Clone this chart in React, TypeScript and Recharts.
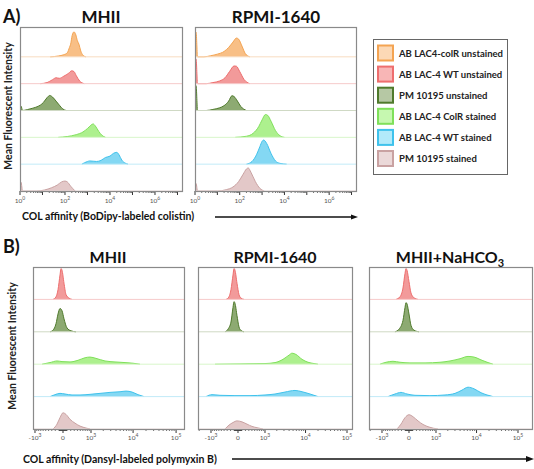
import React from 'react';
import { ComposedChart, Area, XAxis, YAxis, ReferenceLine } from 'recharts';

type Pt = [number, number];

const FONT = 'Lato, "Open Sans", sans-serif';

const SERIES_NAMES = [
  'AB LAC4-colR unstained',
  'AB LAC-4 WT unstained',
  'PM 10195 unstained',
  'AB LAC-4 ColR stained',
  'AB LAC-4 WT stained',
  'PM 10195 stained',
];
const STROKES = ['#F4A452', '#EE6E6E', '#4F7A2C', '#7FE05A', '#3FC2EC', '#C9A2A2'];
const FILLS = ['#F8BF86', '#F29A9A', '#8DAA72', '#ADF08E', '#84D8F3', '#E3C8C8'];
const BASELINES = ['#F8DCC0', '#F6CACA', '#CFD9C4', '#D8F6CA', '#C2EBF8', '#EBDCDC'];
const SWATCH_FILLS = ['#FCD9B6', '#F8B6B6', '#B6C8A4', '#C6F8B0', '#B2EAFA', '#EBD9D9'];

// panel A: BoDipy-colistin, x in fluorescence units (log axis), y = % of row height
const A_MHII: Pt[][] = [
  [[22, 0], [50, 3], [89, 8], [126, 15], [158, 35], [178, 47], [209, 80], [251, 93], [302, 82], [355, 60], [417, 47], [501, 22], [631, 6], [851, 0]],
  [[8, 0], [16, 4], [28, 15], [40, 22], [56, 20], [89, 28], [141, 38], [200, 48], [251, 45], [316, 30], [447, 10], [708, 0]],
  [[1, 18], [1.12, 16], [1.3, 0], [1.6, 1], [2.8, 6], [5, 12], [8, 20], [11, 30], [16, 48], [21, 56], [28, 50], [40, 35], [56, 20], [79, 6], [112, 0]],
  [[50, 0], [126, 3], [316, 10], [631, 20], [1000, 33], [1413, 45], [1778, 50], [2239, 42], [3162, 22], [4467, 7], [6310, 0]],
  [[562, 0], [1000, 10], [1259, 12], [1778, 11], [2512, 10], [3981, 14], [6310, 25], [10000, 30], [14125, 40], [19953, 44], [25119, 35], [33497, 15], [47315, 4], [63096, 0]],
  [[1, 35], [1.12, 32], [1.3, 0], [5.6, 0], [12.6, 4], [25, 12], [45, 22], [71, 34], [100, 37], [126, 34], [178, 18], [282, 0]],
];
const A_RPMI: Pt[][] = [
  [[1, 95], [1.12, 92], [1.3, 0], [2.5, 0], [5, 4], [10, 10], [20, 20], [32, 35], [50, 55], [71, 70], [89, 66], [126, 40], [178, 12], [282, 0]],
  [[1, 95], [1.12, 92], [1.3, 0], [3.2, 0], [6.3, 4], [12.6, 10], [22, 22], [35, 45], [56, 66], [71, 65], [100, 45], [158, 15], [282, 0]],
  [[1, 95], [1.12, 92], [1.3, 0], [3.2, 0], [6.3, 4], [12.6, 10], [20, 18], [32, 35], [45, 55], [56, 52], [79, 35], [112, 15], [200, 0]],
  [[63, 0], [200, 4], [398, 15], [708, 40], [1000, 65], [1413, 85], [1778, 82], [2512, 60], [3981, 25], [6310, 6], [10000, 0]],
  [[200, 0], [355, 10], [562, 35], [794, 65], [1000, 85], [1175, 90], [1585, 78], [2512, 40], [3981, 12], [6310, 3], [12589, 0]],
  [[1, 30], [1.12, 28], [1.3, 0], [10, 0], [25, 5], [50, 15], [89, 35], [141, 62], [200, 82], [240, 86], [316, 70], [501, 35], [794, 10], [1259, 0]],
];

// panel B: dansyl-polymyxin B, biexponential axis
const B_COLORS = [1, 2, 3, 4, 5];
const B_MHII: Pt[][] = [
  [[-264, 0], [-180, 8], [-127, 30], [-76, 75], [-50, 95], [-25, 90], [25, 50], [76, 15], [153, 4], [235, 0]],
  [[-354, 0], [-264, 5], [-180, 25], [-127, 55], [-76, 72], [-25, 65], [25, 40], [101, 12], [207, 3], [354, 0]],
  [[-646, 0], [-354, 5], [-153, 10], [-25, 8], [180, 7], [419, 12], [694, 20], [943, 22], [1333, 18], [2200, 10], [3793, 7], [6490, 5], [9950, 3], [14480, 0]],
  [[-354, 0], [-207, 6], [-76, 10], [50, 8], [235, 5], [490, 5], [943, 7], [1673, 10], [2890, 13], [4960, 15], [6850, 17], [9450, 14], [13000, 6], [17960, 0]],
  [[-264, 0], [-153, 15], [-76, 35], [0, 50], [76, 45], [180, 30], [323, 18], [490, 9], [736, 3], [943, 0]],
];
const B_RPMI: Pt[][] = [
  [[-337, 0], [-245, 8], [-188, 30], [-132, 75], [-105, 95], [-79, 90], [-26, 50], [26, 15], [79, 4], [160, 0]],
  [[-369, 0], [-275, 8], [-188, 30], [-132, 75], [-105, 93], [-79, 88], [-26, 50], [26, 15], [79, 4], [160, 0]],
  [[-775, 0], [52, 1], [1001, 2], [1807, 5], [2843, 15], [3983, 28], [4709, 34], [5884, 30], [8226, 15], [11480, 6], [16020, 2], [20000, 0]],
  [[-1349, 0], [-942, 6], [-552, 4], [-79, 3], [337, 3], [1001, 5], [1807, 8], [3182, 14], [5570, 19], [8226, 15], [12830, 8], [20000, 0]],
  [[-369, 0], [-245, 12], [-132, 20], [-26, 25], [105, 22], [245, 15], [404, 8], [594, 4], [885, 0]],
];
const B_NAHCO3: Pt[][] = [
  [[-369, 0], [-245, 8], [-160, 35], [-105, 80], [-79, 95], [-52, 90], [0, 55], [52, 20], [132, 5], [245, 0]],
  [[-404, 0], [-275, 8], [-160, 35], [-105, 75], [-79, 90], [-52, 86], [0, 55], [52, 20], [132, 5], [275, 0]],
  [[-1130, 0], [-775, 6], [-476, 9], [-245, 6], [26, 4], [476, 4], [1270, 6], [2270, 10], [3983, 17], [6227, 24], [8700, 22], [13580, 12], [18940, 5], [25000, 0]],
  [[-679, 0], [-404, 8], [-216, 13], [-52, 8], [160, 4], [679, 3], [1705, 5], [3012, 10], [4453, 20], [6227, 29], [8700, 24], [12830, 12], [17900, 5], [25000, 0]],
  [[-337, 0], [-216, 15], [-105, 35], [0, 44], [105, 38], [245, 25], [404, 14], [639, 6], [1130, 0]],
];

const A_DOMAIN: [number, number] = [1, 1.585e7];
const A_MAJOR = [1, 10, 1e2, 1e3, 1e4, 1e5, 1e6, 1e7];
const A_LABELS: Record<string, [string, string]> = { '1': ['10', '0'], '100': ['10', '2'], '10000': ['10', '4'], '1000000': ['10', '6'] };
const B_MAJOR = [-1000, 0, 1000, 10000, 100000];
const B_LABELS: Record<string, [string, string]> = { '-1000': ['-10', '3'], '0': ['0', ''], '1000': ['10', '3'], '10000': ['10', '4'], '100000': ['10', '5'] };

const aTicks = (() => {
  const t: number[] = [];
  for (let k = 0; k <= 7; k++) for (let m = 1; m <= 9; m++) {
    const v = m * Math.pow(10, k);
    if (v <= A_DOMAIN[1]) t.push(v);
  }
  return t;
})();

const bTicks = (min: number) => {
  const t: number[] = [...B_MAJOR];
  if (min <= -2000) t.push(-2000);
  for (let m = 1; m <= 9; m++) {
    t.push(-m * 100, m * 100, -m * 10, m * 10);
    if (m > 1) t.push(m * 1000, m * 10000);
  }
  return t.filter((v) => v >= min).sort((a, b) => a - b);
};

// arcsinh display scale for the biexponential axis
function asinhScale(w: number, dom: number[] = [0, 1], rng: number[] = [0, 1]): any {
  let d = dom.slice();
  let r = rng.slice();
  const f = (v: number) => Math.asinh(v / w);
  const s: any = (v: number) => {
    const t0 = f(d[0]);
    const t1 = f(d[d.length - 1]);
    return r[0] + ((f(v) - t0) / (t1 - t0)) * (r[r.length - 1] - r[0]);
  };
  s.domain = (x?: number[]) => {
    if (x === undefined) return d.slice();
    d = Array.from(x, Number);
    return s;
  };
  s.range = (x?: number[]) => {
    if (x === undefined) return r.slice();
    r = Array.from(x, Number);
    return s;
  };
  s.invert = (p: number) => {
    const t0 = f(d[0]);
    const t1 = f(d[d.length - 1]);
    return w * Math.sinh(t0 + ((p - r[0]) / (r[r.length - 1] - r[0])) * (t1 - t0));
  };
  s.copy = () => asinhScale(w, d, r);
  s.ticks = () => d.slice();
  s.tickFormat = () => (v: number) => String(v);
  s.nice = () => s;
  return s;
}

const makeTick = (majors: number[], labels: Record<string, [string, string]>, gap: number) => (props: any) => {
  const { x, y, payload } = props;
  const v = payload.value;
  const major = majors.includes(v);
  const lab = labels[String(v)];
  return (
    <g>
      <line x1={x} x2={x} y1={y} y2={y + (major ? 4 : 2)} stroke="#333" strokeWidth={major ? 1 : 0.7} />
      {lab && (
        <text x={x} y={y + gap} textAnchor="middle" fontSize={6.5} fill="#555" fontFamily={FONT}>
          {lab[0]}
          {lab[1] && (
            <tspan dy={-3} fontSize={5}>
              {lab[1]}
            </tspan>
          )}
        </text>
      )}
    </g>
  );
};

const aTick = makeTick(A_MAJOR, A_LABELS, 12);
const bTick = makeTick(B_MAJOR, B_LABELS, 11);

type PanelProps = {
  left: number;
  top: number;
  width: number;
  plotH: number;
  padTop: number;
  domain: [number, number];
  scale: any;
  rows: Pt[][];
  colorIdx: number[];
  ticks: number[];
  tick: any;
};

const SIDE = 12;

const Panel = ({ left, top, width, plotH, padTop, domain, scale, rows, colorIdx, ticks, tick }: PanelProps) => {
  const n = rows.length;
  return (
    <div style={{ position: 'absolute', left: left - SIDE, top }}>
      <ComposedChart width={width + 2 * SIDE} height={padTop + plotH + 18} margin={{ top: padTop, right: SIDE, bottom: 0, left: SIDE }}>
        <XAxis
          type="number"
          dataKey="x"
          domain={domain}
          scale={scale}
          allowDataOverflow
          ticks={ticks}
          interval={0}
          tick={tick}
          tickSize={0}
          tickMargin={0}
          tickLine={false}
          axisLine={false}
          height={18}
        />
        {rows.map((_, i) => (
          <YAxis key={'y' + i} yAxisId={i} type="number" hide domain={[(i + 1 - n) * 100, (i + 1) * 100]} allowDataOverflow />
        ))}
        {rows.map((_, i) => (
          <ReferenceLine key={'b' + i} yAxisId={i} y={0} stroke={BASELINES[colorIdx[i]]} strokeWidth={1} />
        ))}
        {rows.map((pts, i) => (
          <Area
            key={'a' + i}
            yAxisId={i}
            data={pts.map(([x, y]) => ({ x, y }))}
            dataKey="y"
            type="monotone"
            baseValue={0}
            stroke={STROKES[colorIdx[i]]}
            strokeWidth={1}
            fill={FILLS[colorIdx[i]]}
            fillOpacity={1}
            dot={false}
            activeDot={false}
            isAnimationActive={false}
          />
        ))}
      </ComposedChart>
    </div>
  );
};

const BOXES = [
  [20, 27, 182, 191],
  [195, 27, 356, 191],
  [33, 267, 184, 429],
  [198, 267, 352, 429],
  [369, 267, 532, 429],
];

const A_IDX = [0, 1, 2, 3, 4, 5];

export default function App() {
  return (
    <div style={{ position: 'absolute', left: 0, top: 0, width: 534, height: 469, background: '#fff', fontFamily: FONT }}>
      <Panel left={20} top={27} width={162} plotH={161} padTop={3} domain={A_DOMAIN} scale="log" rows={A_MHII} colorIdx={A_IDX} ticks={aTicks} tick={aTick} />
      <Panel left={195} top={27} width={161} plotH={161} padTop={3} domain={A_DOMAIN} scale="log" rows={A_RPMI} colorIdx={A_IDX} ticks={aTicks} tick={aTick} />
      <Panel left={33} top={267} width={151} plotH={162} padTop={0} domain={[-1124, 152700]} scale={asinhScale(470)} rows={B_MHII} colorIdx={B_COLORS} ticks={bTicks(-1124)} tick={bTick} />
      <Panel left={198} top={267} width={154} plotH={162} padTop={0} domain={[-2140, 132000]} scale={asinhScale(470)} rows={B_RPMI} colorIdx={B_COLORS} ticks={bTicks(-2140)} tick={bTick} />
      <Panel left={369} top={267} width={163} plotH={162} padTop={0} domain={[-2140, 217600]} scale={asinhScale(470)} rows={B_NAHCO3} colorIdx={B_COLORS} ticks={bTicks(-2140)} tick={bTick} />
      <svg width={534} height={469} style={{ position: 'absolute', left: 0, top: 0, pointerEvents: 'none' }} fontFamily={FONT}>
        {BOXES.map(([l, t, r, b], i) => (
          <rect key={i} x={l + 0.5} y={t + 0.5} width={r - l} height={b - t} fill="none" stroke="#8a8a8a" strokeWidth={1.2} />
        ))}
        <text x={3} y={23} fontSize={18} fontWeight={700} fill="#111">A)</text>
        <text x={101} y={23} fontSize={17} fontWeight={700} textAnchor="middle" fill="#111">MHII</text>
        <text x={276} y={23} fontSize={17} fontWeight={700} textAnchor="middle" fill="#111">RPMI-1640</text>
        <text x={3} y={253} fontSize={18} fontWeight={700} fill="#111">B)</text>
        <text x={108} y={263} fontSize={16} fontWeight={700} textAnchor="middle" fill="#111">MHII</text>
        <text x={275} y={263} fontSize={16} fontWeight={700} textAnchor="middle" fill="#111">RPMI-1640</text>
        <text x={450} y={263} fontSize={16} fontWeight={700} textAnchor="middle" fill="#111">
          MHII+NaHCO<tspan dy={4} fontSize={11}>3</tspan>
        </text>
        <text transform="translate(12,106) rotate(-90)" fontSize={10.5} fontWeight={700} textAnchor="middle" fill="#222">Mean Fluorescent Intensity</text>
        <text transform="translate(16,346) rotate(-90)" fontSize={10.5} fontWeight={700} textAnchor="middle" fill="#222">Mean Fluorescent Intensity</text>
        <text x={22} y={220} fontSize={10.5} fontWeight={700} fill="#111">COL affinity (BoDipy-labeled colistin)</text>
        <line x1={215} x2={352} y1={217} y2={217} stroke="#111" strokeWidth={1.3} />
        <polygon points="358,217 351,214.5 351,219.5" fill="#111" />
        <text x={23} y={463} fontSize={10.5} fontWeight={700} fill="#111">COL affinity (Dansyl-labeled polymyxin B)</text>
        <line x1={232} x2={527} y1={459} y2={459} stroke="#111" strokeWidth={1.6} />
        <polygon points="534,459 526,456 526,462" fill="#111" />
        <rect x={373.5} y={39.5} width={134} height={135} fill="#fff" stroke="#666" strokeWidth={1} />
        {SERIES_NAMES.map((name, i) => {
          const cy = 53 + i * 21.1;
          return (
            <g key={name}>
              <rect x={378} y={cy - 7.5} width={15} height={15} fill={SWATCH_FILLS[i]} stroke={STROKES[i]} strokeWidth={2} />
              <text x={399} y={cy + 3.5} fontSize={9.5} fontWeight={700} fill="#222">{name}</text>
            </g>
          );
        })}
      </svg>
    </div>
  );
}
